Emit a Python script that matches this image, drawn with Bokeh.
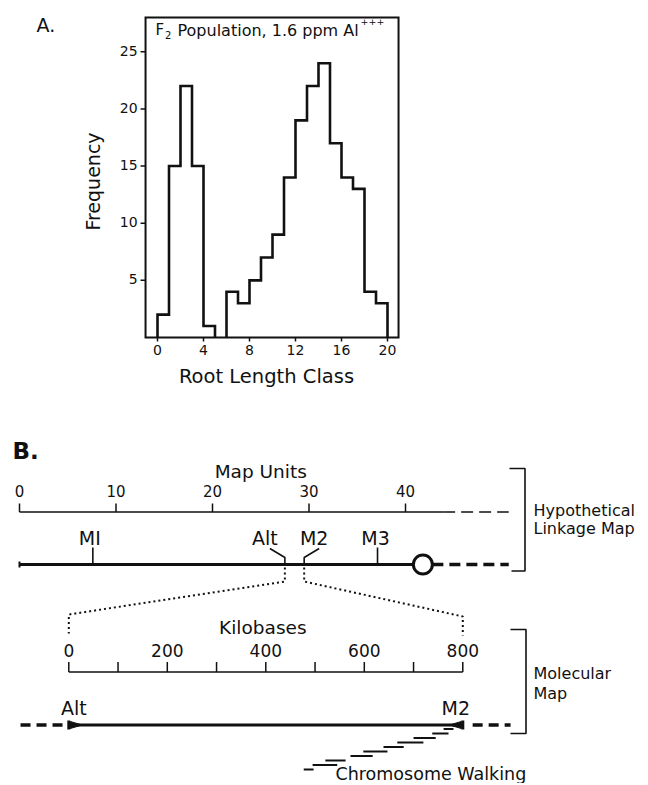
import math
from bokeh.plotting import figure
from bokeh.models import Range1d
from bokeh.embed import file_html
from bokeh.resources import INLINE
from bokeh.core.properties import value

# ---------------- Panel A data ----------------
root_length_class = list(range(20))          # left edge of each unit-wide class
frequency = [2, 15, 22, 15, 1, 0, 4, 3, 5, 7, 9, 14, 19, 22, 24, 17, 14, 13, 4, 3]
x_tick_values = [0, 4, 8, 12, 16, 20]
x_tick_labels = ["0", "4", "8", "12", "16", "20"]
y_tick_values = [5, 10, 15, 20, 25]
y_tick_labels = ["5", "10", "15", "20", "25"]

# ---------------- Panel B data ----------------
map_unit_ticks = [0, 10, 20, 30, 40]
map_unit_labels = ["0", "10", "20", "30", "40"]
linkage_markers = ["MI", "Alt", "M2", "M3"]
linkage_positions = [7.6, 27.5, 29.5, 37.1]
centromere_position = 41.8
map_scale_end = 43.9
map_extent_end = 50.7
kb_ticks = [0, 100, 200, 300, 400, 500, 600, 700, 800]
kb_label_ticks = [0, 200, 400, 600, 800]
kb_labels = ["0", "200", "400", "600", "800"]
molecular_markers = ["Alt", "M2"]
molecular_positions = [0, 800]
molecular_extent = [-98, 897]
walk_clone_start = [477, 495, 521, 572, 598, 639, 667, 700, 738, 761]
walk_clone_end = [497, 545, 562, 617, 647, 680, 720, 745, 771, 781]

FONT = "DejaVu Sans"
INK = "#111111"
W, H = 648, 783

# scales (pixel position of a data value on the page)
CLS0, CLS_PX = 157.0, 11.5        # root length class
FRQ0, FRQ_PX = 337.0, 11.43       # frequency (pixels per unit, upward)
U0, U_PX = 19.0, 9.65             # map units
KB0, KB_PX = 68.3, 0.4925         # kilobases
SHIFT_B = 1                       # panel B nudged up to fit the window
TY = 1                            # text anchor sits ~1px above visual centre

CLS_MIN, CLS_MAX = -1.04, 20.96
FREQ_MAX = 28.0

p = figure(width=W, height=H, output_backend="svg", toolbar_location=None,
           x_range=Range1d(0, W), y_range=Range1d(H, 0),
           x_axis_type=None, y_axis_type=None, min_border=0,
           outline_line_color=None)
p.background_fill_color = "white"
p.border_fill_color = "white"
p.extra_x_ranges = {
    "cls": Range1d((0 - CLS0) / CLS_PX, (W - CLS0) / CLS_PX),
    "u": Range1d((0 - U0) / U_PX, (W - U0) / U_PX),
    "kb": Range1d((0 - KB0) / KB_PX, (W - KB0) / KB_PX),
}
p.extra_y_ranges = {
    "freq": Range1d((FRQ0 - H) / FRQ_PX, FRQ0 / FRQ_PX),
    "yb": Range1d(H + SHIFT_B, 0 + SHIFT_B),
}


def txt(x, y, t, size, align="left", xoff=0, xr="default", yr="default",
        style="normal", angle=0.0):
    n = len(t)
    p.text(x=x, y=y, text=t, x_offset=xoff if isinstance(xoff, list) else [xoff] * n,
           angle=angle, text_font=value(FONT), text_font_size=value(size),
           text_color=INK, text_align=align, text_baseline="alphabetic",
           text_font_style=style, x_range_name=xr, y_range_name=yr)


# ======================= Panel A =======================
A = dict(x_range_name="cls", y_range_name="freq")
p.quad(left=[CLS_MIN], right=[CLS_MAX], bottom=[0], top=[FREQ_MAX], fill_color=None,
       line_color=INK, line_width=2, line_join="miter", **A)

# histogram outline (step path for each contiguous group of non-empty classes)
hx, hy = [], []
cur_x, cur_y = None, None
for edge, count in zip(root_length_class, frequency):
    if count > 0:
        if cur_x is None:
            cur_x, cur_y = [edge], [0]
        cur_x += [edge, edge + 1]
        cur_y += [count, count]
    elif cur_x is not None:
        cur_x.append(cur_x[-1]); cur_y.append(0)
        hx.append(cur_x); hy.append(cur_y)
        cur_x, cur_y = None, None
if cur_x is not None:
    cur_x.append(cur_x[-1]); cur_y.append(0)
    hx.append(cur_x); hy.append(cur_y)
p.multi_line(hx, hy, line_color=INK, line_width=2.6, line_join="miter", **A)

# axes of panel A
ny, nx = len(y_tick_values), len(x_tick_values)
p.segment(x0=[CLS_MIN] * ny, x1=[CLS_MIN - 5 / CLS_PX] * ny, y0=y_tick_values,
          y1=y_tick_values, line_color=INK, line_width=1.5, **A)
p.segment(x0=x_tick_values, x1=x_tick_values, y0=[0] * nx, y1=[-4 / FRQ_PX] * nx,
          line_color=INK, line_width=1.5, **A)
txt([CLS_MIN - 8 / CLS_PX] * ny, [v + TY / FRQ_PX for v in y_tick_values], y_tick_labels,
    "14px", align="right", xr="cls", yr="freq")
txt(x_tick_values, [(FRQ0 - 350.5 + TY) / FRQ_PX] * nx, x_tick_labels, "14px",
    align="center", xr="cls", yr="freq")
txt([266], [376.5 - TY], ["Root Length Class"], "19.5px", align="center")
txt([92.5], [181], ["Frequency"], "19px", align="center", angle=math.pi / 2)
txt([36], [25 - TY], ["A."], "19px")

# inset title F2 Population, 1.6 ppm Al+++
txt([155], [30.5 - TY], ["F"], "15px")
txt([164.5], [35.5 - TY], ["2"], "10px")
txt([177], [30.5 - TY], ["Population, 1.6 ppm Al"], "16px")
txt([360], [21.5 - TY], ["+++"], "9.5px")

# ======================= Panel B =======================
U = dict(x_range_name="u", y_range_name="yb")
K = dict(x_range_name="kb", y_range_name="yb")


def px_u(X):
    return (X - U0) / U_PX


def kb_to_u(kb):
    return px_u(KB0 + kb * KB_PX)


txt([px_u(12)], [452.5 - TY], ["B."], "23px", style="bold", xr="u", yr="yb")

# Map-unit scale
Y_MAP = 512.5
nm = len(map_unit_ticks)
txt([25], [473 - TY], ["Map Units"], "18.5px", align="center", xr="u", yr="yb")
p.segment(x0=[0], x1=[map_scale_end], y0=[Y_MAP], y1=[Y_MAP], line_color=INK, line_width=1.6, **U)
p.segment(x0=[map_scale_end], x1=[map_extent_end], y0=[Y_MAP], y1=[Y_MAP],
          line_color=INK, line_width=1.6, line_dash="12 6", **U)
p.segment(x0=map_unit_ticks, x1=map_unit_ticks, y0=[Y_MAP] * nm, y1=[Y_MAP - 8.5] * nm,
          line_color=INK, line_width=1.5, **U)
txt(map_unit_ticks, [492.5 - TY] * nm, map_unit_labels, "15px", align="center",
    xr="u", yr="yb")

# Linkage map line
Y_LINK = 565
circle_r = 9.5 / U_PX
p.segment(x0=[0], x1=[centromere_position], y0=[Y_LINK], y1=[Y_LINK], line_color=INK,
          line_width=3, **U)
p.segment(x0=[0], x1=[0], y0=[Y_LINK - 3], y1=[Y_LINK + 3], line_color=INK, line_width=2, **U)
p.segment(x0=[centromere_position + circle_r], x1=[map_extent_end], y0=[Y_LINK], y1=[Y_LINK],
          line_color=INK, line_width=3.5, line_dash="11 6", **U)
p.scatter(x=[centromere_position], y=[Y_LINK], size=19, marker="circle",
          fill_color="white", line_color=INK, line_width=3, **U)

label_dx = [-3, -20, 10, -2]
bracket_dir = [0, -1, 1, 0]
mxs, mys = [], []
for pos, d in zip(linkage_positions, bracket_dir):
    if d == 0:
        mxs.append([pos, pos]); mys.append([Y_LINK, Y_LINK - 17])
    else:
        mxs.append([pos + d * 15 / U_PX, pos, pos]); mys.append([Y_LINK - 16, Y_LINK - 7, Y_LINK])
p.multi_line(mxs, mys, line_color=INK, line_width=1.6, **U)
txt(linkage_positions, [539 - TY] * len(linkage_positions), linkage_markers, "19px",
    align="center", xoff=label_dx, xr="u", yr="yb")

# Dotted expansion lines from Alt / M2 down to the kilobase scale
dxs = [[linkage_positions[1], linkage_positions[1], kb_to_u(molecular_positions[0]),
        kb_to_u(molecular_positions[0])],
       [linkage_positions[2], linkage_positions[2], kb_to_u(molecular_positions[1]),
        kb_to_u(molecular_positions[1])]]
dys = [[Y_LINK + 3, 582, 615, 634], [Y_LINK + 3, 582, 617, 636]]
p.multi_line(dxs, dys, line_color=INK, line_width=2, line_dash="2 3", **U)

# Kilobase scale
Y_KB = 672.5
nk = len(kb_ticks)
txt([400], [628.5 - TY], ["Kilobases"], "18.5px", align="center", xoff=-3, xr="kb", yr="yb")
p.segment(x0=[kb_ticks[0]], x1=[kb_ticks[-1]], y0=[Y_KB], y1=[Y_KB], line_color=INK,
          line_width=1.6, **K)
p.segment(x0=kb_ticks, x1=kb_ticks, y0=[Y_KB] * nk, y1=[Y_KB - 10] * nk,
          line_color=INK, line_width=1.5, **K)
txt(kb_label_ticks, [652 - TY] * len(kb_label_ticks), kb_labels, "17px", align="center",
    xr="kb", yr="yb")

# Molecular map line
Y_MOL = 725.5
a, b = molecular_positions
p.segment(x0=[molecular_extent[0], b + 20], x1=[a - 12, molecular_extent[1]],
          y0=[Y_MOL, Y_MOL], y1=[Y_MOL, Y_MOL], line_color=INK, line_width=3.5,
          line_dash="10 6", **K)
p.segment(x0=[a], x1=[b], y0=[Y_MOL], y1=[Y_MOL], line_color=INK, line_width=3, **K)
p.segment(x0=[a, b], x1=[a, b], y0=[Y_MOL - 4.5] * 2, y1=[Y_MOL + 4.5] * 2,
          line_color=INK, line_width=3, **K)
p.patches(xs=[[a + 3, a + 27, a + 3], [b - 3, b - 27, b - 3]],
          ys=[[Y_MOL - 3.5, Y_MOL, Y_MOL + 3.5], [Y_MOL - 3.5, Y_MOL, Y_MOL + 3.5]],
          fill_color=INK, line_color=INK, line_width=1, **K)
txt(molecular_positions, [709.5 - TY] * 2, molecular_markers, "19px", align="center",
    xoff=[5, -7], xr="kb", yr="yb")

# Chromosome walking clones
walk_rows = [770 - 4.5 * i for i in range(len(walk_clone_start))]
p.segment(x0=walk_clone_start, x1=walk_clone_end, y0=walk_rows, y1=walk_rows,
          line_color=INK, line_width=2, **K)
txt([(335 - KB0) / KB_PX], [775.5 - TY], ["Chromosome Walking"], "17.5px", xr="kb", yr="yb")

# Right-hand brackets and labels
p.multi_line([[px_u(509), px_u(524.5), px_u(524.5), px_u(511)],
              [px_u(510), px_u(525.5), px_u(525.5), px_u(510)]],
             [[469, 469, 571.5, 571.5], [630, 630, 734, 734]],
             line_color=INK, line_width=1.6, **U)
txt([px_u(533)] * 4, [511.5 - TY, 530 - TY, 674.5 - TY, 694.5 - TY],
    ["Hypothetical", "Linkage Map", "Molecular", "Map"], "16px", xr="u", yr="yb")

open("out.html", "w").write(file_html(p, INLINE))
